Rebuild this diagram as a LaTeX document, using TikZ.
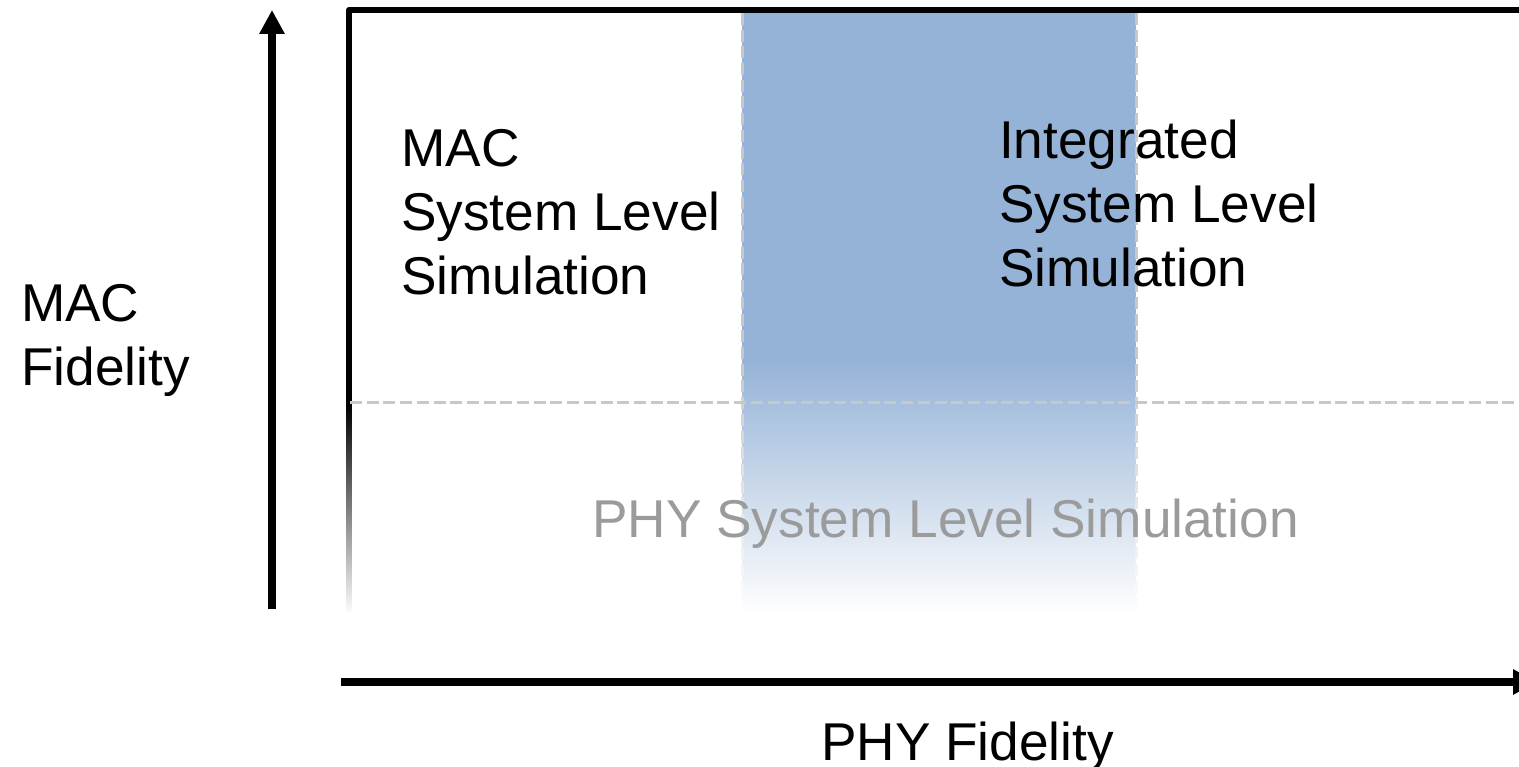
\documentclass[tikz,border=0pt]{standalone}
\usepackage{fontspec}
\setmainfont{Liberation Sans}
\usetikzlibrary{arrows.meta,fadings}
\definecolor{bandblue}{RGB}{149,179,215}
\definecolor{dashgray}{RGB}{200,200,200}
\definecolor{phygray}{RGB}{155,155,155}
\tikzfading[name=fadedown, top color=transparent!100, bottom color=transparent!0]
\tikzset{
  lbl/.style={inner sep=0pt, anchor=base west, align=left,
    font=\fontsize{53.2pt}{64pt}\selectfont},
  axis/.style={line width=8pt, -{Triangle[length=24pt,width=24pt]}},
  griddash/.style={dashgray, line width=3pt, dash pattern=on 12pt off 4.7pt},
  frame/.style={line width=6pt, black}
}
\begin{document}
\begin{tikzpicture}[x=1pt,y=-1pt]
\clip (0,0) rectangle (1519,767);
\fill[white] (0,0) rectangle (1519,767);
% blue band
\fill[bandblue] (742,13) rectangle (1136,610);
\coordinate (b1t) at (742,13); \coordinate (b1b) at (742,610);
\coordinate (b2t) at (1136,13); \coordinate (b2b) at (1136,610);
\draw[griddash] (b1t) -- (b1b);
\draw[griddash] (b2t) -- (b2b);
\fill[white, path fading=fadedown] (737,360) rectangle (1141,613);
% frame
\coordinate (fc) at (349,10);
\coordinate (fr) at (1525,10);
\coordinate (fb) at (349,612);
\draw[frame, line join=round] (fb) -- (fc) -- (fr);
\fill[white, path fading=fadedown] (344,405) rectangle (355,615);
% horizontal dashed
\coordinate (hl) at (350,403); \coordinate (hr) at (1525,403);
\draw[griddash] (hl) -- (hr);
% labels (base anchor = baseline of the last line)
\node[lbl] (mac) at (401,295) {MAC\\System Level\\Simulation};
\node[lbl] (int) at (999,287) {Integrated\\System Level\\Simulation};
\node[lbl] (macf) at (21,385) {MAC\\Fidelity};
\node[lbl, text=phygray] (phy) at (592,537) {PHY System Level Simulation};
\node[lbl] (phyf) at (821,760) {PHY Fidelity};
% axes
\coordinate (ya) at (272,609); \coordinate (yb) at (272,10);
\coordinate (xa) at (341,682); \coordinate (xb) at (1537,682);
\draw[axis] (ya) -- (yb);
\draw[axis] (xa) -- (xb);
\end{tikzpicture}
\end{document}
